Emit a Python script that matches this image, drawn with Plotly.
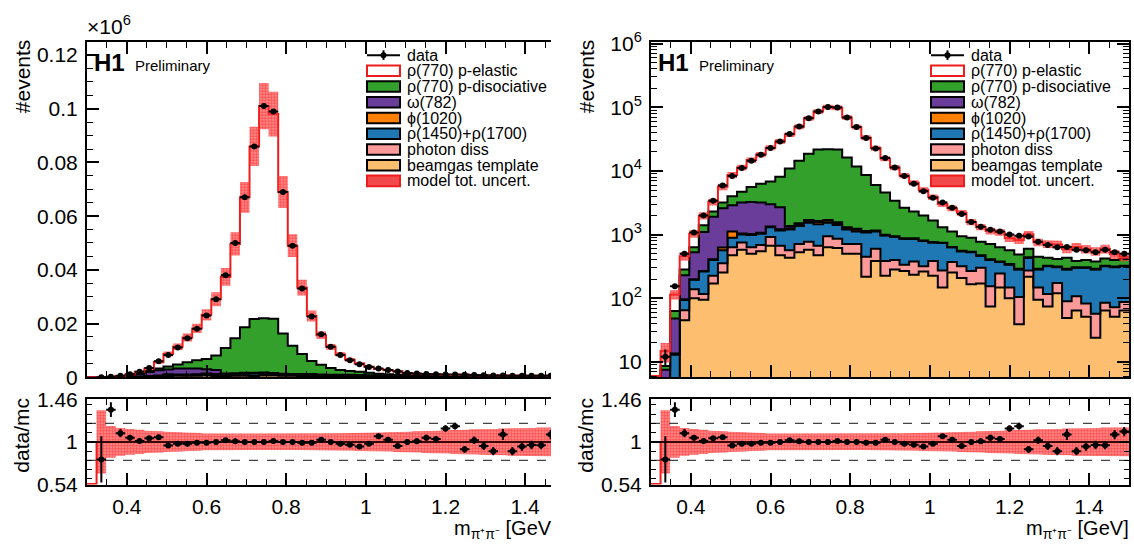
import numpy as np
import plotly.graph_objects as go

W, H = 1134, 554
FONT = "Liberation Sans, Arial, Helvetica, sans-serif"

# ---------------- data (50 bins of 24 MeV, 0.3 - 1.5 GeV) ----------------
bin_edges = np.round(np.linspace(0.3, 1.5, 51), 4)

data_counts = [0, 12, 155, 500, 1080, 2000, 3400, 5900, 8300, 11100, 14500, 18000, 23000, 29000,
               38000, 50000, 67000, 86000, 101000, 99000, 69000, 49000, 33000, 22600, 16000, 11300,
               8300, 6300, 4800, 3800, 3200, 2650, 2100, 1580, 1330, 1190, 1120, 1000, 960, 930,
               770, 685, 630, 640, 577, 565, 530, 577, 530, 500]

beamgas = [0, 0, 0, 45, 100, 95, 170, 253, 475, 577, 500, 545, 670, 475, 433, 530, 577, 475, 630, 617,
           500, 500, 218, 386, 225, 283, 268, 233, 262, 225, 148, 253, 208, 166, 170, 74, 148, 100, 39,
           218, 95, 74, 120, 49, 64, 51, 24, 64, 51, 64]
photon_diss = [0, 0, 0, 20, 38, 22, 55, 103, 155, 173, 130, 140, 250, 195, 132, 180, 193, 195, 315, 243,
               210, 210, 232, 214, 161, 117, 69, 144, 56, 161, 126, 117, 110, 102, 130, 81, 97, 48, 66,
               56, 53, 43, 53, 41, 43, 32, 33, 21, 21, 23]
rho1450_1700 = [0, 0, 13, 29, 57, 145, 175, 209, 260, 250, 355, 350, 380, 490, 635, 650, 760, 790, 585,
                550, 490, 410, 630, 520, 579, 525, 523, 483, 477, 364, 461, 260, 227, 262, 165, 245, 125,
                189, 178, 159, 135, 201, 134, 193, 193, 217, 226, 233, 235, 231]
phi1020 = [0, 0, 0.5, 2, 3, 5, 10, 60, 230, 40, 35, 30, 40, 50, 60, 70, 90, 110, 120, 100, 60, 70, 30,
           15, 8, 5, 3, 3, 3, 3, 3, 3, 3, 3, 3, 3, 3, 3, 3, 3, 3, 3, 3, 3, 3, 3, 3, 3, 3, 3]
omega782 = [0, 7.5, 34.5, 134, 332, 833, 1490, 1975, 1780, 2160, 2230, 2135, 1660, 1490, 100, 80, 70, 60,
            50, 50, 40, 40, 30, 20, 20, 15, 15, 10, 10, 10, 8, 8, 8, 6, 6, 5, 5, 5, 5, 5, 4, 4, 4, 4, 4,
            4, 4, 4, 4, 4]
rho_pdiss = [0, 1.1, 15, 53, 100, 300, 400, 600, 1100, 1500, 2350, 3100, 3800, 5400, 9540, 12990, 16910,
             20070, 20300, 20240, 15000, 10470, 7460, 4845, 3607, 2455, 1772, 1427, 1192, 907, 554, 479,
             389, 351, 296, 302, 252, 220, 194, 159, 160, 108, 100, 143, 79, 93, 87, 95, 86, 95]
rho_pel = [0, 6.2, 52, 174, 403, 580, 969, 2419, 4646, 6627, 9196, 11882, 16432, 20900, 26465, 35152,
           48400, 64300, 79000, 76220, 52700, 37300, 24733, 16828, 11025, 7900, 5819, 4195, 3053, 2208,
           1719, 1468, 1254, 690, 551, 429, 457, 308, 336, 411, 307, 284, 286, 160, 255, 195, 172, 178,
           91, 30]

ratio_err = [0, 0.25, 0.08, 0.045, 0.03, 0.025, 0.02, 0.015, 0.012, 0.01, 0.01, 0.01, 0.008, 0.008, 0.008,
             0.006, 0.006, 0.005, 0.005, 0.005, 0.006, 0.006, 0.008, 0.009, 0.01, 0.012, 0.013, 0.015,
             0.017, 0.019, 0.02, 0.022, 0.025, 0.028, 0.03, 0.032, 0.033, 0.035, 0.036, 0.037, 0.04,
             0.042, 0.045, 0.06, 0.045, 0.045, 0.046, 0.045, 0.05, 0.05]
model_unc_rel = [0, 0.34, 0.17, 0.15, 0.14, 0.13, 0.12, 0.115, 0.11, 0.105, 0.10, 0.095, 0.09, 0.09, 0.088,
                 0.087, 0.086, 0.085, 0.085, 0.085, 0.086, 0.087, 0.088, 0.09, 0.09, 0.092, 0.094, 0.096,
                 0.098, 0.10, 0.10, 0.105, 0.11, 0.11, 0.115, 0.12, 0.12, 0.125, 0.13, 0.13, 0.135, 0.14,
                 0.14, 0.145, 0.15, 0.15, 0.15, 0.155, 0.155, 0.155]

legend_labels = ["data", "ρ(770) p-elastic", "ρ(770) p-disociative", "ω(782)", "ϕ(1020)",
                 "ρ(1450)+ρ(1700)", "photon diss", "beamgas template", "model tot. uncert."]
x_ticks = [0.4, 0.6, 0.8, 1.0, 1.2, 1.4]
x_ticktext = ["0.4", "0.6", "0.8", "1", "1.2", "1.4"]
lin_ticks = [0, 20000, 40000, 60000, 80000, 100000, 120000]
lin_ticktext = ["0", "0.02", "0.04", "0.06", "0.08", "0.1", "0.12"]
log_ticks = [10, 100, 1e3, 1e4, 1e5, 1e6]
log_ticktext = ["10", "10<sup>2</sup>", "10<sup>3</sup>", "10<sup>4</sup>", "10<sup>5</sup>", "10<sup>6</sup>"]
ratio_ticks = [0.54, 1.0, 1.46]
ratio_ticktext = ["0.54", "1", "1.46"]

# ---------------- styles ----------------
RED = "#ee1c1c"
layers = [  # bottom -> top
    (beamgas, "#fdbf6f", "black"),
    (photon_diss, "#fb9a99", "black"),
    (rho1450_1700, "#1f78b4", "black"),
    (phi1020, "#ff7f00", "black"),
    (omega782, "#6a3d9a", "black"),
    (rho_pdiss, "#33a02c", "black"),
    (rho_pel, "white", RED),
]

edges = bin_edges
centers = 0.5 * (edges[:-1] + edges[1:])
halfw = 0.5 * (edges[1] - edges[0])
data = np.array(data_counts, float)
cum = np.cumsum(np.array([l[0] for l in layers], float), axis=0)
mc = cum[-1]
has = data > 0
ratio = np.where(mc > 0, data / np.where(mc > 0, mc, 1), 0)
rerr = np.array(ratio_err)
urel = np.array(model_unc_rel)

def px(x):
    return x / W

def py(y):
    return 1 - y / H

def step(vals):
    v = np.asarray(vals, float)
    return list(edges), list(np.append(v, v[-1]))

fig = go.Figure()

def band_poly(lo, hi, ks):
    xs, ys = [], []
    for k in ks:
        xs += [edges[k], edges[k + 1]]
        ys += [hi[k], hi[k]]
    for k in reversed(ks):
        xs += [edges[k + 1], edges[k]]
        ys += [lo[k], lo[k]]
    xs.append(xs[0]); ys.append(ys[0])
    return xs, ys

BAND_BG = "rgba(255,70,70,0.55)"
PATTERN = dict(shape=".", fgcolor="#ff0000", bgcolor=BAND_BG, size=3, solidity=0.6)
band_ks = [k for k in range(50) if mc[k] > 0]

def add_main(xa, ya, logy):
    floor = 1e-2
    bx, by = step(np.full(50, floor))
    fig.add_trace(go.Scatter(x=bx, y=by, mode="lines", line=dict(width=0, shape="hv"),
                             xaxis=xa, yaxis=ya, showlegend=False, hoverinfo="skip"))
    for i, (vals, fc, lc) in enumerate(layers):
        top = np.maximum(cum[i], floor)
        if i == len(layers) - 1 and logy:
            top = np.maximum(cum[i], 6.0)
        sx, sy = step(top)
        fig.add_trace(go.Scatter(x=sx, y=sy, mode="lines", fill="tonexty", fillcolor=fc,
                                 line=dict(color=lc, width=2, shape="hv"),
                                 xaxis=xa, yaxis=ya, showlegend=False, hoverinfo="skip"))
    lo = mc * (1 - urel)
    hi = mc * (1 + urel)
    bxs, bys = band_poly(lo, hi, band_ks)
    fig.add_trace(go.Scatter(x=bxs, y=bys, mode="lines", fill="toself", fillpattern=PATTERN,
                             fillcolor=BAND_BG, line=dict(width=0),
                             xaxis=xa, yaxis=ya, showlegend=False, hoverinfo="skip"))
    fig.add_trace(go.Scatter(x=centers[has], y=data[has], mode="markers",
                             marker=dict(color="black", size=6),
                             error_x=dict(type="constant", value=halfw, width=0, thickness=2, color="black"),
                             error_y=dict(type="data", array=(rerr * mc)[has], width=0, thickness=2, color="black"),
                             xaxis=xa, yaxis=ya, showlegend=False, hoverinfo="skip"))

def add_ratio(xa, ya, xmax):
    lo = 1 - urel
    hi = 1 + urel
    bxs, bys = band_poly(lo, hi, band_ks)
    fig.add_trace(go.Scatter(x=bxs, y=bys, mode="lines", fill="toself", fillpattern=PATTERN,
                             fillcolor=BAND_BG, line=dict(width=0),
                             xaxis=xa, yaxis=ya, showlegend=False, hoverinfo="skip"))
    for yv in (0.8, 1.2):
        fig.add_trace(go.Scatter(x=[0.3, xmax], y=[yv, yv], mode="lines",
                                 line=dict(color="#444444", width=1.3, dash="dash"),
                                 xaxis=xa, yaxis=ya, showlegend=False, hoverinfo="skip"))
    mcline = np.where(mc > 0, 1.0, 0.546)
    sx, sy = step(mcline)
    fig.add_trace(go.Scatter(x=sx, y=sy, mode="lines", line=dict(color=RED, width=2, shape="hv"),
                             xaxis=xa, yaxis=ya, showlegend=False, hoverinfo="skip"))
    fig.add_trace(go.Scatter(x=[0.3, xmax], y=[1, 1], mode="lines", line=dict(color="black", width=1.5),
                             xaxis=xa, yaxis=ya, showlegend=False, hoverinfo="skip"))
    fig.add_trace(go.Scatter(x=centers[has], y=ratio[has], mode="markers",
                             marker=dict(color="black", size=6),
                             error_x=dict(type="constant", value=halfw, width=0, thickness=2, color="black"),
                             error_y=dict(type="data", array=rerr[has], width=0, thickness=2, color="black"),
                             xaxis=xa, yaxis=ya, showlegend=False, hoverinfo="skip"))

LEFT_XMAX = 0.3 + (551 - 87) / (565 - 87) * 1.2
add_main("x", "y", False)
add_ratio("x2", "y2", LEFT_XMAX)
add_main("x3", "y3", True)
add_ratio("x4", "y4", 1.5)

# ---------------- axes ----------------
tickfont = dict(family=FONT, size=21, color="black")
x_minor = [round(v, 3) for v in np.arange(0.3, 1.5001, 0.05)]

def xaxis(dom, rng, labels, anchor):
    return dict(domain=dom, range=rng, anchor=anchor, showgrid=False, zeroline=False,
                showline=True, linecolor="black", linewidth=2, mirror="allticks",
                ticks="inside", ticklen=12, tickwidth=1.5, tickcolor="black",
                tickvals=x_ticks, ticktext=x_ticktext, showticklabels=labels,
                tickfont=tickfont, ticklabelstandoff=2,
                minor=dict(ticks="inside", ticklen=6, tickwidth=1.2, tickcolor="black", tickvals=x_minor))

LD = [px(87), px(551)]
RD = [px(651), px(1129)]
MAIN = [py(381), py(31)]
RAT = [py(493), py(404)]

ratio_minor = [0.6, 0.7, 0.8, 0.9, 1.1, 1.2, 1.3, 1.4]
log_minor = [m * 10 ** e for e in range(0, 6) for m in range(2, 10)]

def yaxis(dom, anchor, mirror, **kw):
    d = dict(domain=dom, anchor=anchor, showgrid=False, zeroline=False,
             showline=True, linecolor="black", linewidth=2, mirror=mirror,
             ticks="inside", tickwidth=1.5, tickcolor="black", tickfont=tickfont, ticklabelstandoff=3)
    d.update(kw)
    return d

fig.update_layout(
    width=W, height=H, autosize=False, margin=dict(l=0, r=0, t=0, b=0),
    paper_bgcolor="white", plot_bgcolor="white", showlegend=False,
    font=dict(family=FONT, color="black"),
    xaxis=xaxis(LD, [0.3, LEFT_XMAX], False, "y"),
    xaxis2=xaxis(LD, [0.3, LEFT_XMAX], True, "y2"),
    xaxis3=xaxis(RD, [0.3, 1.5], False, "y3"),
    xaxis4=xaxis(RD, [0.3, 1.5], True, "y4"),
    yaxis=yaxis(MAIN, "x", False, range=[0, 125000], ticklen=12, tickvals=lin_ticks, ticktext=lin_ticktext,
                minor=dict(ticks="inside", ticklen=6, tickwidth=1.2, tickvals=list(range(0, 125001, 5000)))),
    yaxis2=yaxis(RAT, "x2", False, range=[0.5399, 1.4601], ticklen=10, tickvals=ratio_ticks,
                 ticktext=ratio_ticktext,
                 minor=dict(ticks="inside", ticklen=5, tickwidth=1.2, tickvals=ratio_minor)),
    yaxis3=yaxis(MAIN, "x3", "allticks", type="log", range=[0.76, 6.03], ticklen=12, tickvals=log_ticks,
                 ticktext=log_ticktext,
                 minor=dict(ticks="inside", ticklen=6, tickwidth=1.2, tickvals=log_minor)),
    yaxis4=yaxis(RAT, "x4", "allticks", range=[0.5399, 1.4601], ticklen=10, tickvals=ratio_ticks,
                 ticktext=ratio_ticktext,
                 minor=dict(ticks="inside", ticklen=5, tickwidth=1.2, tickvals=ratio_minor)),
)

# ---------------- texts & legend ----------------
ann = []
shapes = []

def text(x, y, s, size, xanchor="left", angle=0, bold=False, yanchor="middle"):
    ann.append(dict(x=px(x), y=py(y), xref="paper", yref="paper", text=("<b>%s</b>" % s) if bold else s,
                    showarrow=False, xanchor=xanchor, yanchor=yanchor, textangle=angle, borderpad=0,
                    font=dict(family=FONT, size=size, color="black")))

for off in (0, 564):
    text(22 + off, 67, "#events", 21, xanchor="center", angle=-90)
    text(22 + off, 442, "data/mc", 21, xanchor="center", angle=-90)
    text(93 + off, 53, "H1", 24, bold=True)
    text(134 + off, 56, "Preliminary", 15)
    sx0, sx1 = 367 + off, 400 + off
    tx = 406 + off
    for i, lab in enumerate(legend_labels):
        yy = 45 + 16.4 * i
        text(tx, yy, lab, 16)
        if i == 0:
            shapes.append(dict(type="line", xref="paper", yref="paper", x0=px(sx0), x1=px(sx1),
                               y0=py(yy), y1=py(yy), line=dict(color="black", width=2)))
            shapes.append(dict(type="line", xref="paper", yref="paper", x0=px((sx0 + sx1) / 2),
                               x1=px((sx0 + sx1) / 2), y0=py(yy - 5), y1=py(yy + 5),
                               line=dict(color="black", width=2)))
            shapes.append(dict(type="circle", xref="paper", yref="paper",
                               x0=px((sx0 + sx1) / 2 - 3), x1=px((sx0 + sx1) / 2 + 3),
                               y0=py(yy - 3), y1=py(yy + 3), fillcolor="black", line=dict(width=0)))
        else:
            if i == 1:
                fc, lc = "white", RED
            elif i == 8:
                fc, lc = "#f24a4a", RED
            else:
                fc, lc = layers[7 - i][1], "black"
            shapes.append(dict(type="rect", xref="paper", yref="paper", x0=px(sx0), x1=px(sx1),
                               y0=py(yy - 5.5), y1=py(yy + 5.5), fillcolor=fc, line=dict(color=lc, width=2)))

text(86, 14, "×10<sup>6</sup>", 21)
text(553, 554, "m<sub>π⁺π⁻</sub> [GeV", 20, xanchor="right", yanchor="bottom")
text(1130, 554, "m<sub>π⁺π⁻</sub> [GeV]", 20, xanchor="right", yanchor="bottom")

fig.update_layout(annotations=ann, shapes=shapes)
fig.write_html("out.html", config={"displayModeBar": False},
               post_script="document.body.style.margin='0px';")
